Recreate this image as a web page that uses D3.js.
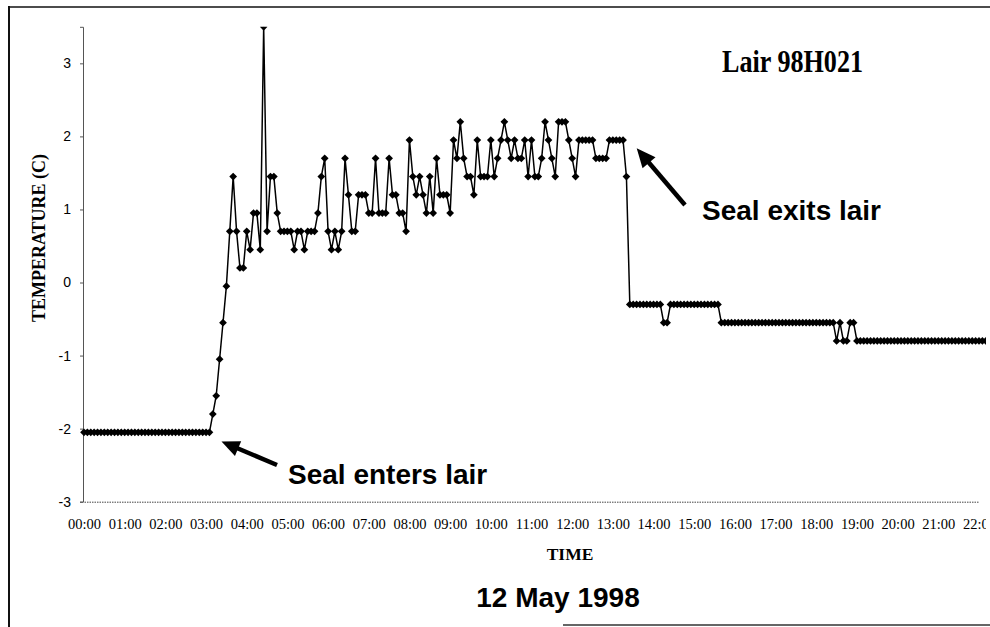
<!DOCTYPE html>
<html><head><meta charset="utf-8">
<script src="https://cdn.jsdelivr.net/npm/d3@7"></script>
<style>body{margin:0;background:#fff;}svg{display:block}</style>
</head><body>
<svg id="chart" width="990" height="627"></svg>
<script>
// ---- data ----
const hourLabels = ["00:00","01:00","02:00","03:00","04:00","05:00","06:00","07:00","08:00","09:00","10:00","11:00","12:00","13:00","14:00","15:00","16:00","17:00","18:00","19:00","20:00","21:00","22:00"];
const yTicks = [-3,-2,-1,0,1,2,3];
const sampleMinutes = 5;
const temps = [
-2.05,-2.05,-2.05,-2.05,-2.05,-2.05,-2.05,-2.05,-2.05,-2.05,
-2.05,-2.05,-2.05,-2.05,-2.05,-2.05,-2.05,-2.05,-2.05,-2.05,
-2.05,-2.05,-2.05,-2.05,-2.05,-2.05,-2.05,-2.05,-2.05,-2.05,
-2.05,-2.05,-2.05,-2.05,-2.05,-2.05,-2.05,-2.05,
-1.8,-1.55,-1.05,-0.55,-0.05,
0.7,1.45,0.7,0.2,0.2,0.7,0.45,0.95,0.95,0.45,
3.5,0.7,1.45,1.45,0.95,0.7,0.7,0.7,0.7,0.45,
0.7,0.7,0.45,0.7,0.7,0.7,0.95,1.45,1.7,0.7,
0.45,0.7,0.45,0.7,1.7,1.2,0.7,0.7,1.2,1.2,
1.2,0.95,0.95,1.7,0.95,0.95,0.95,1.7,1.2,1.2,
0.95,0.95,0.7,1.95,1.45,1.2,1.45,1.2,0.95,1.45,
0.95,1.7,1.2,1.2,1.2,0.95,1.95,1.7,2.2,1.7,
1.45,1.45,1.2,1.95,1.45,1.45,1.45,1.95,1.45,1.7,
1.95,2.2,1.95,1.7,1.95,1.7,1.7,1.95,1.45,1.95,
1.45,1.45,1.7,2.2,1.95,1.7,1.45,2.2,2.2,2.2,
1.95,1.7,1.45,1.95,1.95,1.95,1.95,1.95,1.7,1.7,
1.7,1.7,1.95,1.95,1.95,1.95,1.95,1.45,
-0.3,-0.3,-0.3,-0.3,-0.3,-0.3,-0.3,-0.3,-0.3,-0.3,
-0.55,-0.55,
-0.3,-0.3,-0.3,-0.3,-0.3,-0.3,-0.3,-0.3,-0.3,-0.3,-0.3,-0.3,-0.3,-0.3,-0.3,
-0.55,-0.55,-0.55,-0.55,-0.55,-0.55,-0.55,-0.55,-0.55,-0.55,
-0.55,-0.55,-0.55,-0.55,-0.55,-0.55,-0.55,-0.55,-0.55,-0.55,
-0.55,-0.55,-0.55,-0.55,-0.55,-0.55,-0.55,-0.55,-0.55,-0.55,
-0.55,-0.55,-0.55,-0.55,
-0.8,-0.55,-0.8,-0.8,-0.55,-0.55,
-0.8,-0.8,-0.8,-0.8,-0.8,-0.8,-0.8,-0.8,-0.8,-0.8,
-0.8,-0.8,-0.8,-0.8,-0.8,-0.8,-0.8,-0.8,-0.8,-0.8,
-0.8,-0.8,-0.8,-0.8,-0.8,-0.8,-0.8,-0.8,-0.8,-0.8,
-0.8,-0.8,-0.8,-0.8,-0.8,-0.8,-0.8,-0.8,-0.8
];
const chartTitle = "Lair 98H021";
const xTitle = "TIME";
const yTitle = "TEMPERATURE (C)";
const dateLabel = "12 May 1998";
const noteEnter = "Seal enters lair";
const noteExit = "Seal exits lair";

// ---- drawing ----
const svg = d3.select("#chart");
const serif = "'Liberation Serif','Times New Roman',serif";
const sans = "'Liberation Sans',Arial,sans-serif";

const x = d3.scaleLinear().domain([0, 22*60]).range([84, 979]);
const y = d3.scaleLinear().domain([-3, 3.5]).range([501.7, 26.8]);

const defs = svg.append("defs");
defs.append("clipPath").attr("id","plotclip").append("rect")
  .attr("x",80).attr("y",y(3.5)).attr("width",910).attr("height",y(-3)-y(3.5)+6);
defs.append("clipPath").attr("id","pageclip").append("rect")
  .attr("x",0).attr("y",0).attr("width",986).attr("height",627);

// frame
svg.append("line").attr("x1",8).attr("x2",990).attr("y1",7).attr("y2",7)
  .attr("stroke","#111").attr("stroke-width",1.6);
svg.append("line").attr("x1",9).attr("x2",9).attr("y1",6).attr("y2",627)
  .attr("stroke","#111").attr("stroke-width",2);
svg.append("line").attr("x1",563).attr("x2",990).attr("y1",625).attr("y2",625)
  .attr("stroke","#333").attr("stroke-width",1.5);

const g = svg.append("g").attr("clip-path","url(#pageclip)");

// y axis
const yAxis = g.append("g").attr("transform","translate(83,0)")
  .call(d3.axisLeft(y).tickValues(yTicks).tickSize(3).tickPadding(9).tickFormat(d => String(d)));
yAxis.select(".domain").attr("stroke","#555").attr("stroke-width",1);
yAxis.selectAll(".tick line").attr("stroke","#555");
yAxis.selectAll("text").attr("font-family",sans).attr("font-size",14).attr("fill","#000");

// x axis
const xAxis = g.append("g").attr("transform","translate(0,"+y(-3)+")")
  .call(d3.axisBottom(x).tickValues(hourLabels.map((d,i)=>i*60)).tickSize(0).tickPadding(17.5)
    .tickFormat((d,i)=>hourLabels[i]));
xAxis.select(".domain").attr("stroke","#444").attr("stroke-width",1).attr("stroke-dasharray","1.5,1");
xAxis.selectAll("text").attr("font-family",serif).attr("font-size",14.5).attr("fill","#000");

// series
const pts = temps.map((v,i)=>({t:i*sampleMinutes, v}));
const plot = g.append("g").attr("clip-path","url(#plotclip)");
plot.append("path").datum(pts)
  .attr("fill","none").attr("stroke","#000").attr("stroke-width",1.5)
  .attr("d", d3.line().x(d=>x(d.t)).y(d=>y(d.v)));
const sym = d3.symbol(d3.symbolSquare, 30);
plot.selectAll("path.mk").data(pts).join("path").attr("class","mk")
  .attr("d", sym)
  .attr("transform", d=>`translate(${x(d.t)},${y(d.v)}) rotate(45)`)
  .attr("fill","#000");

// titles
g.append("text").attr("x",722).attr("y",72).text(chartTitle)
  .attr("font-family",serif).attr("font-weight","bold").attr("font-size",32)
  .attr("textLength",141).attr("lengthAdjust","spacingAndGlyphs").attr("fill","#000");
g.append("text").attr("x",570).attr("y",560).attr("text-anchor","middle").text(xTitle)
  .attr("font-family",serif).attr("font-weight","bold").attr("font-size",17.5);
g.append("text").attr("transform","translate(45,238) rotate(-90)").attr("text-anchor","middle").text(yTitle)
  .attr("font-family",serif).attr("font-weight","bold").attr("font-size",18);
g.append("text").attr("x",558).attr("y",607).attr("text-anchor","middle").text(dateLabel)
  .attr("font-family",sans).attr("font-weight","bold").attr("font-size",28);
g.append("text").attr("x",288).attr("y",484).text(noteEnter)
  .attr("font-family",sans).attr("font-weight","bold").attr("font-size",28);
g.append("text").attr("x",702).attr("y",219.5).text(noteExit)
  .attr("font-family",sans).attr("font-weight","bold").attr("font-size",28);

// arrows
function arrow(tip, tail, headLen, headHalf, width){
  const dx = tail[0]-tip[0], dy = tail[1]-tip[1], L = Math.hypot(dx,dy);
  const ux = dx/L, uy = dy/L, nx = -uy, ny = ux;
  const bx = tip[0]+ux*headLen, by = tip[1]+uy*headLen;
  g.append("line").attr("x1",bx-ux*2).attr("y1",by-uy*2).attr("x2",tail[0]).attr("y2",tail[1])
    .attr("stroke","#000").attr("stroke-width",width);
  g.append("path").attr("d", d3.line()([tip,[bx+nx*headHalf,by+ny*headHalf],[bx-nx*headHalf,by-ny*headHalf]])+"Z")
    .attr("fill","#000");
}
arrow([221.5,441.5],[277,465],18,8,4.5);
arrow([636.7,148.3],[685,205],19,8.5,4.5);
</script>
</body></html>
